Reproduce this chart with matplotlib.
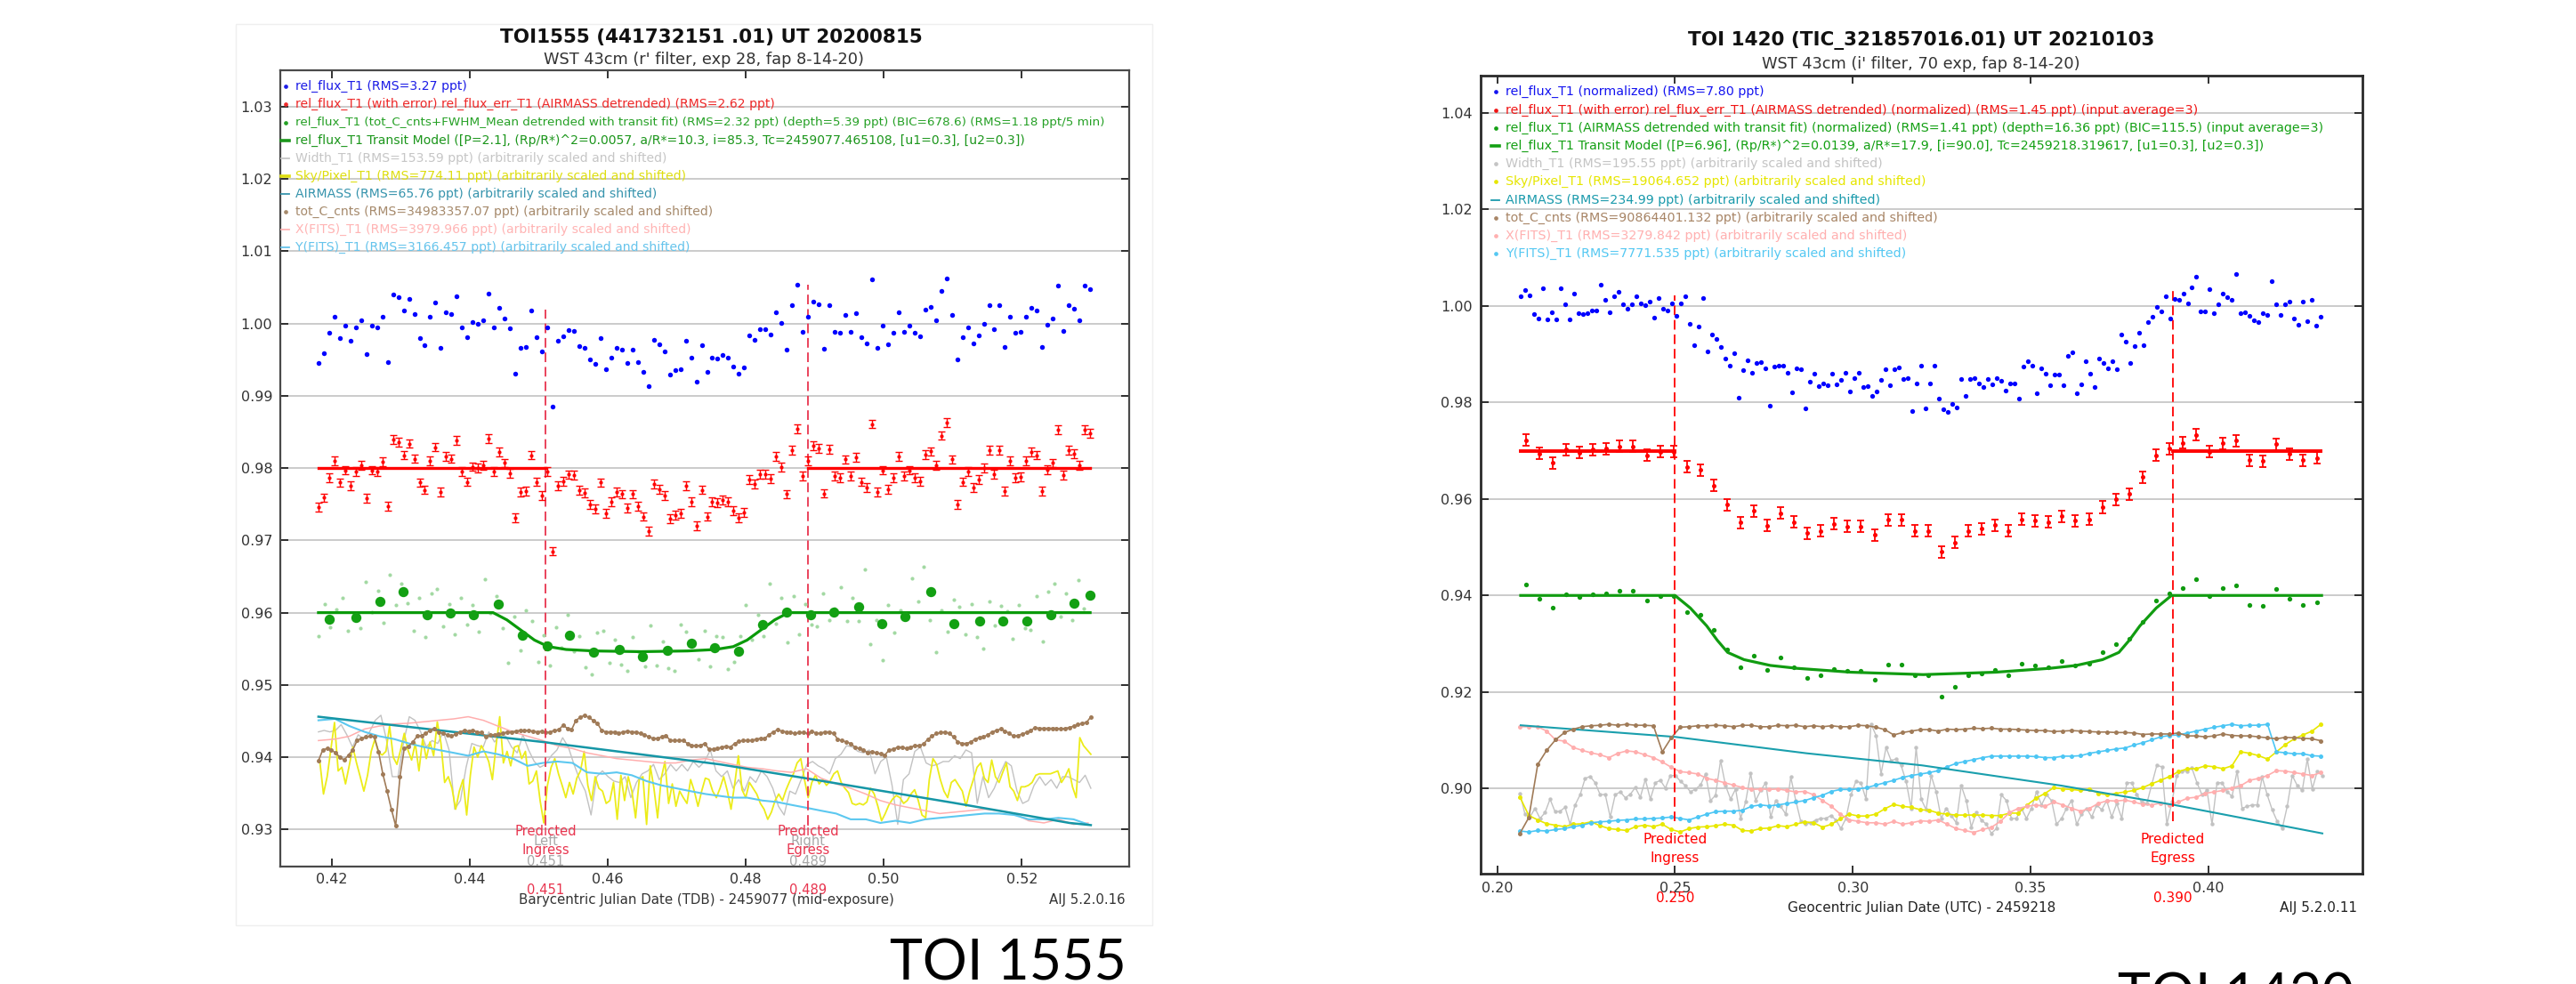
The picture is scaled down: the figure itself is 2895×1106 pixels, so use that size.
import numpy as np
import matplotlib
matplotlib.use("Agg")
import matplotlib.pyplot as plt
from matplotlib.lines import Line2D
from matplotlib.patches import Rectangle
from matplotlib.transforms import blended_transform_factory

# ---------------------------------------------------------------- DATA: TOI 1555 (left)
blue_L = [
    0.9946, 0.9959, 0.9987, 1.0010, 0.9980, 0.9997, 0.9976, 0.9995, 1.0004, 0.9958,
    0.9997, 0.9995, 1.0009, 0.9947, 1.0040, 1.0036, 1.0018, 1.0034, 1.0013, 0.9980,
    0.9970, 1.0010, 1.0029, 0.9967, 1.0016, 1.0013, 1.0038, 0.9995, 0.9981, 1.0002,
    1.0000, 1.0004, 1.0041, 0.9995, 1.0022, 1.0007, 0.9993, 0.9931, 0.9967, 0.9968,
    1.0018, 0.9981, 0.9962, 0.9995, 0.9885, 0.9976, 0.9982, 0.9991, 0.9990, 0.9969,
    0.9966, 0.9950, 0.9944, 0.9980, 0.9937, 0.9953, 0.9967, 0.9964, 0.9945, 0.9964,
    0.9947, 0.9933, 0.9913, 0.9978, 0.9971, 0.9962, 0.9930, 0.9935, 0.9937, 0.9976,
    0.9953, 0.9920, 0.9970, 0.9933, 0.9953, 0.9952, 0.9956, 0.9953, 0.9941, 0.9931,
    0.9939, 0.9984, 0.9978, 0.9992, 0.9992, 0.9985, 1.0016, 1.0001, 0.9964, 1.0025,
    1.0054, 0.9989, 1.0010, 1.0031, 1.0027, 0.9965, 1.0026, 0.9989, 0.9987, 1.0012,
    0.9989, 1.0015, 0.9981, 0.9973, 1.0061, 0.9967, 0.9997, 0.9971, 0.9987, 1.0016,
    0.9989, 0.9997, 0.9987, 0.9982, 1.0019, 1.0023, 1.0004, 1.0045, 1.0063, 1.0012,
    0.9950, 0.9981, 0.9995, 0.9973, 0.9984, 1.0000, 1.0025, 0.9992, 1.0025, 0.9968,
    1.0010, 0.9987, 0.9988, 1.0010, 1.0022, 1.0018, 0.9968, 0.9998, 1.0007, 1.0053,
    0.9990, 1.0025, 1.0020, 1.0004, 1.0053, 1.0048]
red_L = [
    0.9746, 0.9759, 0.9787, 0.9810, 0.9780, 0.9797, 0.9776, 0.9795, 0.9804, 0.9758,
    0.9797, 0.9795, 0.9809, 0.9747, 0.9840, 0.9836, 0.9818, 0.9834, 0.9813, 0.9780,
    0.9770, 0.9810, 0.9829, 0.9767, 0.9816, 0.9813, 0.9838, 0.9795, 0.9781, 0.9802,
    0.9800, 0.9804, 0.9841, 0.9795, 0.9822, 0.9807, 0.9793, 0.9731, 0.9767, 0.9768,
    0.9818, 0.9781, 0.9762, 0.9795, 0.9685, 0.9776, 0.9782, 0.9791, 0.9790, 0.9769,
    0.9766, 0.9750, 0.9744, 0.9780, 0.9737, 0.9753, 0.9767, 0.9764, 0.9745, 0.9764,
    0.9747, 0.9733, 0.9713, 0.9778, 0.9771, 0.9762, 0.9730, 0.9735, 0.9737, 0.9776,
    0.9753, 0.9720, 0.9770, 0.9733, 0.9753, 0.9752, 0.9756, 0.9753, 0.9741, 0.9731,
    0.9739, 0.9784, 0.9778, 0.9792, 0.9792, 0.9785, 0.9816, 0.9801, 0.9764, 0.9825,
    0.9854, 0.9789, 0.9810, 0.9831, 0.9827, 0.9765, 0.9826, 0.9789, 0.9787, 0.9812,
    0.9789, 0.9815, 0.9781, 0.9773, 0.9861, 0.9767, 0.9797, 0.9771, 0.9787, 0.9816,
    0.9789, 0.9797, 0.9787, 0.9782, 0.9819, 0.9823, 0.9804, 0.9845, 0.9863, 0.9812,
    0.9750, 0.9781, 0.9795, 0.9773, 0.9784, 0.9800, 0.9825, 0.9792, 0.9825, 0.9768,
    0.9810, 0.9787, 0.9788, 0.9810, 0.9822, 0.9818, 0.9768, 0.9798, 0.9807, 0.9853,
    0.9790, 0.9825, 0.9820, 0.9804, 0.9853, 0.9848]
red_err_L = 0.0006
red_base_L = 0.98
green_raw_L = [
    0.9568, 0.9612, 0.9580, 0.9604, 0.9621, 0.9575, 0.9598, 0.9578, 0.9643, 0.9601,
    0.9630, 0.9586, 0.9652, 0.9611, 0.9640, 0.9613, 0.9575, 0.9620, 0.9566, 0.9627,
    0.9633, 0.9581, 0.9612, 0.9570, 0.9620, 0.9584, 0.9610, 0.9574, 0.9646, 0.9600,
    0.9623, 0.9579, 0.9530, 0.9595, 0.9548, 0.9603, 0.9588, 0.9532, 0.9569, 0.9527,
    0.9580, 0.9552, 0.9597, 0.9547, 0.9568, 0.9524, 0.9515, 0.9573, 0.9575, 0.9531,
    0.9562, 0.9528, 0.9519, 0.9566, 0.9545, 0.9526, 0.9582, 0.9527, 0.9560, 0.9523,
    0.9520, 0.9583, 0.9574, 0.9555, 0.9535, 0.9575, 0.9526, 0.9568, 0.9566, 0.9522,
    0.9532, 0.9568, 0.9610, 0.9562, 0.9597, 0.9567, 0.9640, 0.9585, 0.9620, 0.9559,
    0.9623, 0.9570, 0.9612, 0.9583, 0.9581, 0.9627, 0.9590, 0.9606, 0.9635, 0.9589,
    0.9620, 0.9588, 0.9660, 0.9556, 0.9590, 0.9534, 0.9610, 0.9572, 0.9603, 0.9591,
    0.9648, 0.9615, 0.9663, 0.9590, 0.9545, 0.9603, 0.9574, 0.9618, 0.9608, 0.9570,
    0.9612, 0.9566, 0.9550, 0.9615, 0.9582, 0.9609, 0.9602, 0.9564, 0.9611, 0.9579,
    0.9576, 0.9623, 0.9560, 0.9629, 0.9640, 0.9595, 0.9627, 0.9590, 0.9645, 0.9606,
    0.9621]
t_bin_L = [0.4196, 0.4235, 0.4270, 0.4303, 0.4338, 0.4372, 0.4406, 0.4442, 0.4477,
           0.4512, 0.4545, 0.4579, 0.4617, 0.4651, 0.4686, 0.4721, 0.4755, 0.4790,
           0.4824, 0.4859, 0.4894, 0.4928, 0.4963, 0.4997, 0.5031, 0.5068, 0.5102,
           0.5139, 0.5173, 0.5207, 0.5242, 0.5276, 0.5299]
green_bin_L = [0.9591, 0.9593, 0.9615, 0.9629, 0.9597, 0.9599, 0.9597, 0.9612, 0.9569,
               0.9554, 0.9569, 0.9545, 0.9549, 0.9539, 0.9548, 0.9558, 0.9551, 0.9547,
               0.9584, 0.9601, 0.9597, 0.9601, 0.9608, 0.9585, 0.9594, 0.9629, 0.9585,
               0.9589, 0.9589, 0.9589, 0.9597, 0.9613, 0.9624]
t_model_L = [0.4181, 0.4434, 0.4454, 0.4474, 0.4494, 0.4514, 0.4540, 0.4580, 0.4648,
             0.4716, 0.4756, 0.4782, 0.4802, 0.4822, 0.4842, 0.4862, 0.5299]
model_L = [0.9600, 0.9600, 0.9590, 0.9576, 0.9562, 0.9553, 0.9549, 0.9547, 0.9546,
           0.9547, 0.9549, 0.9553, 0.9562, 0.9576, 0.9590, 0.9600, 0.9600]
brown_L = [
    0.9395, 0.9410, 0.9412, 0.9410, 0.9406, 0.9400, 0.9396, 0.9403, 0.9410, 0.9423,
    0.9426, 0.9428, 0.9429, 0.9428, 0.9408, 0.9377, 0.9353, 0.9328, 0.9305, 0.9373,
    0.9412, 0.9415, 0.9421, 0.9429, 0.9430, 0.9433, 0.9437, 0.9440, 0.9435, 0.9433,
    0.9431, 0.9429, 0.9432, 0.9435, 0.9437, 0.9436, 0.9437, 0.9435, 0.9434, 0.9428,
    0.9431, 0.9431, 0.9432, 0.9433, 0.9435, 0.9435, 0.9436, 0.9437, 0.9437, 0.9437,
    0.9436, 0.9435, 0.9436, 0.9434, 0.9435, 0.9437, 0.9438, 0.9444, 0.9440, 0.9438,
    0.9451, 0.9455, 0.9458, 0.9455, 0.9451, 0.9447, 0.9437, 0.9435, 0.9435, 0.9435,
    0.9433, 0.9435, 0.9436, 0.9435, 0.9435, 0.9433, 0.9431, 0.9428, 0.9426, 0.9426,
    0.9428, 0.9430, 0.9423, 0.9423, 0.9423, 0.9423, 0.9419, 0.9416, 0.9416, 0.9416,
    0.9419, 0.9411, 0.9411, 0.9412, 0.9414, 0.9415, 0.9414,
    0.9419, 0.9422, 0.9423, 0.9423, 0.9423, 0.9425, 0.9426, 0.9426, 0.9431, 0.9435,
    0.9438, 0.9436, 0.9435, 0.9434, 0.9433, 0.9434, 0.9434, 0.9433, 0.9436, 0.9433,
    0.9433, 0.9435, 0.9435, 0.9433, 0.9425, 0.9423, 0.9421, 0.9419, 0.9414, 0.9412,
    0.9410, 0.9406, 0.9408, 0.9406, 0.9405, 0.9403, 0.9410, 0.9411, 0.9414, 0.9414,
    0.9412, 0.9414, 0.9416, 0.9416, 0.9418, 0.9425, 0.9429, 0.9433, 0.9434, 0.9435,
    0.9433, 0.9428, 0.9421, 0.9419, 0.9419, 0.9421, 0.9425, 0.9427, 0.9428, 0.9431,
    0.9435, 0.9437, 0.9439, 0.9436, 0.9433, 0.9429, 0.9430, 0.9432, 0.9434, 0.9437,
    0.9441, 0.9440, 0.9440, 0.9440, 0.9440, 0.9440, 0.9439, 0.9440, 0.9441, 0.9443,
    0.9445, 0.9447, 0.9448, 0.9456]
sky_L = [
    0.9394, 0.9349, 0.9373, 0.9410, 0.9448, 0.9381, 0.9386, 0.9363, 0.9388, 0.9414,
    0.9392, 0.9373, 0.9353, 0.9375, 0.9408, 0.9425, 0.9406, 0.9403, 0.9408, 0.9443,
    0.9400, 0.9390, 0.9410, 0.9433, 0.9410, 0.9396, 0.9419, 0.9381, 0.9425, 0.9398,
    0.9421, 0.9402, 0.9449, 0.9419, 0.9365, 0.9373, 0.9357, 0.9328, 0.9353, 0.9369,
    0.9320, 0.9375, 0.9414, 0.9400, 0.9416, 0.9406, 0.9394, 0.9369, 0.9416, 0.9456,
    0.9392, 0.9408, 0.9388, 0.9414, 0.9416, 0.9398, 0.9408, 0.9363, 0.9367, 0.9381,
    0.9340, 0.9309, 0.9361, 0.9386, 0.9398, 0.9377, 0.9361, 0.9344, 0.9365, 0.9349,
    0.9371, 0.9381, 0.9408, 0.9361, 0.9340, 0.9373, 0.9357, 0.9353, 0.9336, 0.9340,
    0.9365, 0.9314, 0.9375, 0.9340, 0.9373, 0.9353, 0.9316, 0.9369, 0.9373, 0.9307,
    0.9388, 0.9357, 0.9316, 0.9371, 0.9394, 0.9336, 0.9363, 0.9332, 0.9353, 0.9344,
    0.9336, 0.9369, 0.9353, 0.9332, 0.9353, 0.9371, 0.9369, 0.9353, 0.9344,
    0.9357, 0.9373, 0.9353, 0.9328, 0.9363, 0.9402, 0.9355, 0.9344, 0.9365, 0.9357,
    0.9349, 0.9336, 0.9328, 0.9314, 0.9324, 0.9340, 0.9349, 0.9340, 0.9355, 0.9367,
    0.9377, 0.9392, 0.9398, 0.9369, 0.9344, 0.9365, 0.9375, 0.9363, 0.9369, 0.9361,
    0.9367, 0.9377, 0.9381, 0.9365, 0.9357, 0.9351, 0.9336, 0.9334, 0.9336, 0.9334,
    0.9338, 0.9357, 0.9349, 0.9332, 0.9312, 0.9322, 0.9334, 0.9342, 0.9347, 0.9344,
    0.9336, 0.9340, 0.9349, 0.9355, 0.9340, 0.9320, 0.9316, 0.9369, 0.9398, 0.9390,
    0.9369, 0.9353, 0.9344, 0.9365, 0.9369, 0.9361, 0.9353, 0.9332, 0.9353, 0.9369,
    0.9386, 0.9392, 0.9371, 0.9365, 0.9396, 0.9373, 0.9365, 0.9379, 0.9392, 0.9359,
    0.9353, 0.9340, 0.9359, 0.9359, 0.9361, 0.9365, 0.9375, 0.9377, 0.9377, 0.9377,
    0.9377, 0.9379, 0.9381, 0.9365, 0.9373, 0.9384, 0.9359, 0.9344, 0.9427, 0.9416,
    0.9410, 0.9404]
width_L = [
    0.9435, 0.9437, 0.9435, 0.9437, 0.9445, 0.9431, 0.9414, 0.9431, 0.9425, 0.9435,
    0.9451, 0.9458, 0.9423, 0.9373, 0.9373, 0.9421, 0.9456, 0.9451, 0.9435, 0.9414,
    0.9423, 0.9419, 0.9435, 0.9410, 0.9328, 0.9340, 0.9386, 0.9419, 0.9416, 0.9414,
    0.9435, 0.9421, 0.9431, 0.9429, 0.9414, 0.9406, 0.9431, 0.9410, 0.9394, 0.9386,
    0.9390, 0.9402, 0.9410, 0.9427, 0.9414, 0.9390, 0.9369, 0.9353, 0.9320, 0.9373,
    0.9381, 0.9373, 0.9367, 0.9365, 0.9373, 0.9344, 0.9365, 0.9377, 0.9381, 0.9390,
    0.9369, 0.9377, 0.9390, 0.9381, 0.9390, 0.9381, 0.9394, 0.9386, 0.9394, 0.9410,
    0.9381, 0.9373, 0.9381,
    0.9357, 0.9369, 0.9353, 0.9373, 0.9365, 0.9381, 0.9373, 0.9357, 0.9332, 0.9320,
    0.9353, 0.9349, 0.9369, 0.9390, 0.9394, 0.9388, 0.9384, 0.9377, 0.9398, 0.9404,
    0.9416, 0.9414, 0.9408, 0.9406, 0.9410, 0.9377, 0.9394, 0.9400, 0.9361, 0.9307,
    0.9369, 0.9377, 0.9408, 0.9414, 0.9392, 0.9388, 0.9390, 0.9394, 0.9394, 0.9402,
    0.9398, 0.9410, 0.9406, 0.9336, 0.9373, 0.9344, 0.9357, 0.9377, 0.9394, 0.9388,
    0.9353, 0.9336, 0.9340, 0.9361, 0.9373, 0.9361, 0.9369, 0.9357, 0.9373, 0.9373,
    0.9369, 0.9365, 0.9375, 0.9357]
t_fits_L = [0.4181, 0.4205, 0.4226, 0.4248, 0.4269, 0.4291, 0.4312, 0.4334, 0.4355,
            0.4377, 0.4398, 0.4420, 0.4441, 0.4463, 0.4484, 0.4506, 0.4527, 0.4549,
            0.4570, 0.4592, 0.4613, 0.4635, 0.4656, 0.4678, 0.4699, 0.4720, 0.4742,
            0.4781, 0.4802, 0.4824, 0.4845, 0.4866, 0.4888, 0.4909, 0.4931, 0.4952,
            0.4974, 0.4995, 0.5017, 0.5038, 0.5060, 0.5081, 0.5103, 0.5124, 0.5146,
            0.5167, 0.5189, 0.5210, 0.5232, 0.5253, 0.5275, 0.5296]
xfits_L = [0.9423, 0.9425, 0.9429, 0.9439, 0.9443, 0.9446, 0.9447, 0.9449, 0.9451,
           0.9453, 0.9456, 0.9451, 0.9443, 0.9435, 0.9429, 0.9423, 0.9416, 0.9412,
           0.9406, 0.9402, 0.9398, 0.9396, 0.9394, 0.9392, 0.9392, 0.9396, 0.9398,
           0.9390, 0.9386, 0.9384, 0.9381, 0.9379, 0.9384, 0.9371, 0.9363, 0.9357,
           0.9349, 0.9340, 0.9334, 0.9330, 0.9326, 0.9322, 0.9324, 0.9326, 0.9328,
           0.9326, 0.9322, 0.9312, 0.9309, 0.9314, 0.9307, 0.9309]
yfits_L = [0.9451, 0.9453, 0.9443, 0.9435, 0.9429, 0.9425, 0.9419, 0.9414, 0.9410,
           0.9406, 0.9402, 0.9408, 0.9404, 0.9398, 0.9388, 0.9392, 0.9394, 0.9392,
           0.9379, 0.9377, 0.9379, 0.9375, 0.9367, 0.9361, 0.9357, 0.9353, 0.9349,
           0.9344, 0.9344, 0.9340, 0.9338, 0.9334, 0.9330, 0.9326, 0.9322, 0.9314,
           0.9314, 0.9309, 0.9312, 0.9309, 0.9314, 0.9316, 0.9318, 0.9320, 0.9322,
           0.9322, 0.9320, 0.9314, 0.9314, 0.9316, 0.9314, 0.9307]
t_air_L = [0.4181, 0.4506, 0.4763, 0.4886, 0.5100, 0.5269, 0.5300]
air_L = [0.9456, 0.9421, 0.9390, 0.9371, 0.9337, 0.9309, 0.9306]
ingress_L, egress_L = 0.451, 0.489
xticks_L = [0.42, 0.44, 0.46, 0.48, 0.50, 0.52]
yticks_L = [0.93, 0.94, 0.95, 0.96, 0.97, 0.98, 0.99, 1.00, 1.01, 1.02, 1.03]

# ---------------------------------------------------------------- DATA: TOI 1420 (right)
blue_R = [
    1.0020, 1.0032, 1.0021, 0.9983, 0.9974, 1.0037, 0.9972, 0.9987, 0.9972, 1.0036,
    1.0003, 0.9972, 1.0025, 0.9985, 0.9983, 0.9985, 0.9991, 0.9990, 1.0043, 1.0012,
    0.9987, 1.0020, 1.0029, 1.0003, 0.9994, 1.0003, 1.0020, 1.0006, 1.0002, 1.0008,
    0.9975, 1.0017, 0.9994, 0.9990, 1.0005, 0.9980, 1.0006, 1.0020, 0.9962, 0.9919,
    0.9957, 1.0017, 0.9905, 0.9940, 0.9931, 0.9915, 0.9890, 0.9877, 0.9901, 0.9810,
    0.9866, 0.9888, 0.9862, 0.9882, 0.9883, 0.9871, 0.9794, 0.9875, 0.9877, 0.9877,
    0.9862, 0.9821, 0.9871, 0.9868, 0.9787, 0.9842, 0.9859, 0.9833, 0.9840, 0.9836,
    0.9859, 0.9837, 0.9846, 0.9862, 0.9822, 0.9850, 0.9862, 0.9831, 0.9833, 0.9813,
    0.9822, 0.9846, 0.9869, 0.9836, 0.9868, 0.9873, 0.9848, 0.9850, 0.9782, 0.9840,
    0.9877, 0.9787, 0.9840, 0.9877, 0.9808, 0.9785, 0.9780, 0.9796, 0.9790, 0.9848,
    0.9813, 0.9848, 0.9851, 0.9840, 0.9831, 0.9848, 0.9837, 0.9851, 0.9845, 0.9824,
    0.9840, 0.9840, 0.9808, 0.9875, 0.9885, 0.9877, 0.9819, 0.9871, 0.9859, 0.9836,
    0.9857, 0.9858, 0.9836, 0.9896, 0.9904, 0.9819, 0.9837, 0.9885, 0.9859, 0.9831,
    0.9891, 0.9882, 0.9871, 0.9885, 0.9868, 0.9940, 0.9926, 0.9882, 0.9917, 0.9945,
    0.9919, 0.9966, 0.9977, 0.9998, 0.9989, 1.0020, 0.9974, 1.0015, 1.0012, 1.0026,
    1.0006, 1.0038, 1.0061, 0.9989, 0.9988, 1.0034, 0.9985, 1.0003, 1.0025, 1.0018,
    1.0012, 1.0066, 0.9985, 0.9987, 0.9980, 0.9971, 0.9966, 0.9985, 0.9982, 1.0052,
    1.0003, 0.9982, 1.0003, 1.0009, 0.9974, 0.9960, 1.0009, 0.9968, 1.0012, 0.9959,
    0.9977]
red_R = [
    0.9722, 0.9694, 0.9675, 0.9702, 0.9696, 0.9702, 0.9704, 0.9709, 0.9709, 0.9690,
    0.9698, 0.9698, 0.9666, 0.9660, 0.9628, 0.9588, 0.9551, 0.9575, 0.9545, 0.9571,
    0.9552, 0.9529, 0.9534, 0.9548, 0.9543, 0.9543, 0.9525, 0.9557, 0.9557, 0.9534,
    0.9534, 0.9490, 0.9510, 0.9534, 0.9538, 0.9546, 0.9534, 0.9558, 0.9555, 0.9552,
    0.9564, 0.9555, 0.9558, 0.9583, 0.9599, 0.9610, 0.9645, 0.9690, 0.9704, 0.9716,
    0.9733, 0.9698, 0.9715, 0.9721, 0.9680, 0.9678, 0.9713, 0.9693, 0.9680, 0.9685]
red_err_R = 0.0012
red_base_R = 0.97
green_R = [
    0.9422, 0.9394, 0.9375, 0.9402, 0.9396, 0.9402, 0.9404, 0.9409, 0.9409, 0.9390,
    0.9398, 0.9398, 0.9366, 0.9360, 0.9328, 0.9288, 0.9251, 0.9275, 0.9245, 0.9271,
    0.9252, 0.9229, 0.9234, 0.9248, 0.9243, 0.9243, 0.9225, 0.9257, 0.9257, 0.9234,
    0.9234, 0.9190, 0.9210, 0.9234, 0.9238, 0.9246, 0.9234, 0.9258, 0.9255, 0.9252,
    0.9264, 0.9255, 0.9258, 0.9283, 0.9299, 0.9310, 0.9345, 0.9390, 0.9404, 0.9416,
    0.9433, 0.9398, 0.9415, 0.9421, 0.9380, 0.9378, 0.9413, 0.9393, 0.9380, 0.9385]
t_model_R = [0.2066, 0.2500, 0.2543, 0.2589, 0.2619, 0.2648, 0.2694, 0.2768, 0.2843,
             0.2994, 0.3198, 0.3402, 0.3553, 0.3628, 0.3702, 0.3748, 0.3777, 0.3807,
             0.3853, 0.3896, 0.4318]
model_R = [0.9400, 0.9400, 0.9374, 0.9337, 0.9307, 0.9282, 0.9267, 0.9255, 0.9249,
           0.9241, 0.9236, 0.9241, 0.9249, 0.9255, 0.9267, 0.9282, 0.9307, 0.9337,
           0.9374, 0.9400, 0.9400]
brown_R = [
    0.8907, 0.8940, 0.9050, 0.9079, 0.9101, 0.9116, 0.9123, 0.9128, 0.9130, 0.9131,
    0.9133, 0.9131, 0.9133, 0.9131, 0.9131, 0.9130, 0.9076, 0.9105, 0.9127, 0.9128,
    0.9130, 0.9130, 0.9131, 0.9130, 0.9128, 0.9131, 0.9131, 0.9128, 0.9128, 0.9131,
    0.9130, 0.9131, 0.9128, 0.9130, 0.9128, 0.9130, 0.9128, 0.9128, 0.9131, 0.9130,
    0.9127, 0.9122, 0.9111, 0.9116, 0.9119, 0.9122,
    0.9122, 0.9119, 0.9123, 0.9122, 0.9123, 0.9125, 0.9124, 0.9125, 0.9123, 0.9123,
    0.9122, 0.9121, 0.9120, 0.9120, 0.9118, 0.9119, 0.9120, 0.9119, 0.9118, 0.9117,
    0.9117, 0.9116, 0.9116, 0.9115, 0.9112, 0.9113, 0.9113, 0.9113, 0.9115, 0.9109,
    0.9109, 0.9107, 0.9109, 0.9113, 0.9110, 0.9109, 0.9109, 0.9107, 0.9105, 0.9103,
    0.9106, 0.9105, 0.9104, 0.9103, 0.9099]
xfits_R = [
    0.9128, 0.9128, 0.9128, 0.9119, 0.9101, 0.9098, 0.9085, 0.9079, 0.9074, 0.9070,
    0.9064, 0.9073, 0.9078, 0.9076, 0.9070, 0.9064, 0.9055, 0.9044, 0.9035, 0.9033,
    0.9030, 0.9021, 0.9017, 0.9012, 0.9007, 0.9002, 0.8998, 0.8999, 0.8998, 0.8999,
    0.8996, 0.8993, 0.8994, 0.8987, 0.8975, 0.8963, 0.8947, 0.8935, 0.8932, 0.8929,
    0.8929, 0.8926, 0.8932, 0.8926, 0.8929, 0.8933,
    0.8932, 0.8935, 0.8926, 0.8917, 0.8913, 0.8909, 0.8915, 0.8920, 0.8932, 0.8950,
    0.8959, 0.8963, 0.8966, 0.8963, 0.8972, 0.8966, 0.8959, 0.8953, 0.8959, 0.8969,
    0.8975, 0.8974, 0.8976, 0.8972, 0.8967, 0.8966, 0.8970, 0.8966, 0.8972, 0.8980,
    0.8982, 0.8990, 0.8993, 0.8996, 0.9001, 0.9006, 0.9017, 0.9021, 0.9027, 0.9037,
    0.9036, 0.9033, 0.9030, 0.9027, 0.9033]
yfits_R = [
    0.8912, 0.8910, 0.8913, 0.8912, 0.8915, 0.8917, 0.8921, 0.8924, 0.8929, 0.8931,
    0.8932, 0.8934, 0.8935, 0.8937, 0.8937, 0.8938, 0.8939, 0.8941, 0.8938, 0.8935,
    0.8941, 0.8947, 0.8952, 0.8953, 0.8953, 0.8955, 0.8963, 0.8966, 0.8964, 0.8966,
    0.8969, 0.8972, 0.8975, 0.8981, 0.8986, 0.8994, 0.8998, 0.8998, 0.8999, 0.9002,
    0.9007, 0.9012, 0.9017, 0.9023, 0.9027, 0.9030,
    0.9033, 0.9037, 0.9045, 0.9052, 0.9056, 0.9060, 0.9064, 0.9067, 0.9067, 0.9067,
    0.9067, 0.9067, 0.9066, 0.9064, 0.9064, 0.9067, 0.9067, 0.9068, 0.9073, 0.9076,
    0.9079, 0.9082, 0.9084, 0.9090, 0.9095, 0.9101, 0.9107, 0.9110, 0.9111, 0.9115,
    0.9119, 0.9123, 0.9127, 0.9130, 0.9133, 0.9130, 0.9131, 0.9131, 0.9133, 0.9076,
    0.9074, 0.9072, 0.9072, 0.9068, 0.9067]
sky_R = [
    0.8982, 0.8944, 0.8935, 0.8927, 0.8924, 0.8921, 0.8926, 0.8927, 0.8931, 0.8923,
    0.8917, 0.8915, 0.8913, 0.8921, 0.8924, 0.8921, 0.8926, 0.8915, 0.8910, 0.8917,
    0.8920, 0.8921, 0.8923, 0.8926, 0.8924, 0.8913, 0.8912, 0.8917, 0.8918, 0.8923,
    0.8921, 0.8926, 0.8931, 0.8929, 0.8920, 0.8926, 0.8937, 0.8947, 0.8943, 0.8943,
    0.8947, 0.8958, 0.8967, 0.8963, 0.8961, 0.8956,
    0.8955, 0.8949, 0.8947, 0.8945, 0.8945, 0.8945, 0.8945, 0.8944, 0.8944, 0.8949,
    0.8949, 0.8966, 0.8980, 0.8990, 0.9002, 0.8999, 0.8998, 0.8996, 0.8999, 0.8990,
    0.8987, 0.8990, 0.8993, 0.8996, 0.9002, 0.9010, 0.9017, 0.9025, 0.9035, 0.9041,
    0.9041, 0.9047, 0.9045, 0.9041, 0.9047, 0.9076, 0.9073, 0.9068, 0.9061, 0.9076,
    0.9091, 0.9103, 0.9111, 0.9119, 0.9133]
width_R = [
    0.8990, 0.8947, 0.8941, 0.8959, 0.8938, 0.8950, 0.8978, 0.8952, 0.8953, 0.8961,
    0.8926, 0.8966, 0.8987, 0.9021, 0.9025, 0.9012, 0.8987, 0.8988, 0.8941, 0.8987,
    0.8993, 0.8981, 0.8988, 0.9002, 0.8982, 0.9019, 0.8978, 0.9012, 0.9017, 0.9001,
    0.9027, 0.9027, 0.9015, 0.9006, 0.8993, 0.8999, 0.9007, 0.9030, 0.8975, 0.8986,
    0.9058, 0.9006, 0.8978, 0.8999, 0.8938, 0.8972, 0.9031, 0.8975, 0.8996, 0.9012,
    0.8941, 0.8975, 0.8963, 0.8947, 0.9024, 0.8975, 0.8932, 0.8926, 0.8929, 0.8935,
    0.8938, 0.8938, 0.8944, 0.8935, 0.8917, 0.8938, 0.8987, 0.9015, 0.9012, 0.8978,
    0.9134, 0.9110, 0.9030, 0.9085, 0.9058, 0.9061, 0.9048,
    0.9015, 0.8959, 0.9085, 0.8978, 0.8956, 0.9027, 0.8993, 0.8938, 0.8959, 0.8944,
    0.8929, 0.9006, 0.8975, 0.8920, 0.8950, 0.8935, 0.8926, 0.8907, 0.8917, 0.8987,
    0.8975, 0.8938, 0.8938, 0.8959, 0.8938, 0.8959, 0.8993, 0.8966, 0.8987, 0.8975,
    0.8926, 0.8938, 0.8959, 0.8975, 0.8926, 0.8947, 0.8959, 0.8941, 0.8966, 0.8956,
    0.8975, 0.8941, 0.8969, 0.8938, 0.9012, 0.9012, 0.8987, 0.8972, 0.8969, 0.9009,
    0.9048, 0.9045, 0.8926, 0.8972, 0.9027, 0.9036, 0.9036, 0.9042, 0.9012, 0.8987,
    0.8996, 0.8926, 0.9012, 0.9012, 0.8993, 0.8984, 0.9036, 0.8959, 0.8963, 0.8966,
    0.8966, 0.9024, 0.8987, 0.8956, 0.8932, 0.8917, 0.8963, 0.9027, 0.9006, 0.8996,
    0.9061, 0.8999, 0.9036, 0.9027]
t_air_R = [0.2066, 0.2500, 0.2870, 0.3194, 0.3586, 0.3903, 0.4320]
air_R = [0.9131, 0.9107, 0.9073, 0.9048, 0.9006, 0.8966, 0.8907]
ingress_R, egress_R = 0.250, 0.390
xticks_R = [0.20, 0.25, 0.30, 0.35, 0.40]
yticks_R = [0.90, 0.92, 0.94, 0.96, 0.98, 1.00, 1.02, 1.04]

legend_L = [
    ("rel_flux_T1 (RMS=3.27 ppt)", "#1c1ce6", "dot", 10.1),
    ("rel_flux_T1 (with error) rel_flux_err_T1 (AIRMASS detrended) (RMS=2.62 ppt)", "#ee2a2a", "dot", 10.1),
    ("rel_flux_T1 (tot_C_cnts+FWHM_Mean detrended with transit fit) (RMS=2.32 ppt) (depth=5.39 ppt) (BIC=678.6) (RMS=1.18 ppt/5 min)", "#25a025", "dot", 9.7),
    ("rel_flux_T1 Transit Model ([P=2.1], (Rp/R*)^2=0.0057, a/R*=10.3, i=85.3, Tc=2459077.465108, [u1=0.3], [u2=0.3])", "#1c961c", "bar", 10.1),
    ("Width_T1 (RMS=153.59 ppt) (arbitrarily scaled and shifted)", "#c6c6c6", "dash", 10.1),
    ("Sky/Pixel_T1 (RMS=774.11 ppt) (arbitrarily scaled and shifted)", "#dede10", "bar", 10.1),
    ("AIRMASS (RMS=65.76 ppt) (arbitrarily scaled and shifted)", "#3794ad", "dash", 10.1),
    ("tot_C_cnts (RMS=34983357.07 ppt) (arbitrarily scaled and shifted)", "#a68a6c", "dot", 10.1),
    ("X(FITS)_T1 (RMS=3979.966 ppt) (arbitrarily scaled and shifted)", "#ffb4b4", "dash", 10.1),
    ("Y(FITS)_T1 (RMS=3166.457 ppt) (arbitrarily scaled and shifted)", "#66c4ec", "dash", 10.1),
]
legend_R = [
    ("rel_flux_T1 (normalized) (RMS=7.80 ppt)", "#1414f0", "dot", 10.3),
    ("rel_flux_T1 (with error) rel_flux_err_T1 (AIRMASS detrended) (normalized) (RMS=1.45 ppt) (input average=3)", "#f01414", "dot", 10.3),
    ("rel_flux_T1 (AIRMASS detrended with transit fit) (normalized) (RMS=1.41 ppt) (depth=16.36 ppt) (BIC=115.5) (input average=3)", "#14a014", "dot", 10.3),
    ("rel_flux_T1 Transit Model ([P=6.96], (Rp/R*)^2=0.0139, a/R*=17.9, [i=90.0], Tc=2459218.319617, [u1=0.3], [u2=0.3])", "#14a014", "bar", 10.3),
    ("Width_T1 (RMS=195.55 ppt) (arbitrarily scaled and shifted)", "#c4c4c4", "dot", 10.3),
    ("Sky/Pixel_T1 (RMS=19064.652 ppt) (arbitrarily scaled and shifted)", "#e6e600", "dot", 10.3),
    ("AIRMASS (RMS=234.99 ppt) (arbitrarily scaled and shifted)", "#1a9aac", "dash", 10.3),
    ("tot_C_cnts (RMS=90864401.132 ppt) (arbitrarily scaled and shifted)", "#a88566", "dot", 10.3),
    ("X(FITS)_T1 (RMS=3279.842 ppt) (arbitrarily scaled and shifted)", "#ffb0b0", "dot", 10.3),
    ("Y(FITS)_T1 (RMS=7771.535 ppt) (arbitrarily scaled and shifted)", "#55c8f2", "dot", 10.3),
]

# ---------------------------------------------------------------- STYLE
BLUE, RED, GREEN = "#0000ff", "#ff0000", "#0a9a0a"
LGREEN = "#a3d9a3"
GRAY, YELLOW, TEAL = "#c2c2c2", "#ecec1a", "#1596a6"
BROWN, PINK, LBLUE = "#a07b58", "#ffaeae", "#5cc8f0"
DASHRED_L = "#e8344e"

W, H, DPI = 2895, 1106, 100
plt.rcParams["font.family"] = ["DejaVu Sans"]
fig = plt.figure(figsize=(W / DPI, H / DPI), dpi=DPI)
fig.patch.set_facecolor("white")


def fxp(px):
    return px / W


def fyp(py):
    return 1 - py / H


# faint frame of the pasted left image
fig.add_artist(Rectangle((fxp(265), fyp(1040)), fxp(1295) - fxp(265), fyp(27) - fyp(1040),
                         transform=fig.transFigure, fill=False, ec="#efefef", lw=1.0))

axL = fig.add_axes([fxp(315.2), fyp(973.7), fxp(1268.6) - fxp(315.2), fyp(79) - fyp(973.7)])
axR = fig.add_axes([fxp(1663.6), fyp(982.3), fxp(2654.7) - fxp(1663.6), fyp(85) - fyp(982.3)])


def style(ax, xlim, ylim, xticks, yticks, xfmt, frame_c, frame_lw, xpad):
    ax.set_xlim(*xlim)
    ax.set_ylim(*ylim)
    ax.set_xticks(xticks)
    ax.set_yticks(yticks)
    ax.set_xticklabels([xfmt % v for v in xticks])
    ax.set_yticklabels(["%.2f" % v for v in yticks])
    ax.tick_params(axis="both", direction="in", length=6.5, width=1.3, top=True, right=True,
                   labelsize=11.5, labelcolor="#333333", color="#222222")
    ax.tick_params(axis="x", pad=xpad)
    ax.tick_params(axis="y", pad=6.5)
    for s in ax.spines.values():
        s.set_color(frame_c)
        s.set_linewidth(frame_lw)
    ax.yaxis.grid(True, color="#cbcbcb", lw=1.4)
    ax.set_axisbelow(True)


style(axL, (0.4126, 0.5355), (0.92490, 1.03505), xticks_L, yticks_L, "%.2f", "#4a4a4a", 1.6, 5.5)
style(axR, (0.19525, 0.4432), (0.88230, 1.04770), xticks_R, yticks_R, "%.2f", "#2a2a2a", 2.0, 6.5)

# ---------------------------------------------------------------- LEFT PANEL
tL = np.linspace(0.4181, 0.5299, len(blue_L))
tgL = np.linspace(0.4181, 0.5299, len(green_raw_L))
tbL = np.linspace(0.4181, 0.5300, len(brown_L))
tsL = np.linspace(0.4183, 0.5300, len(sky_L))
twL = np.linspace(0.4181, 0.5300, len(width_L))

axL.plot(twL, width_L, color=GRAY, lw=1.0, zorder=2)
axL.plot(tsL, sky_L, color=YELLOW, lw=1.3, zorder=2.2)
axL.plot(t_fits_L, xfits_L, color=PINK, lw=1.1, zorder=2.4)
axL.plot(t_fits_L, yfits_L, color=LBLUE, lw=1.5, zorder=2.5)
axL.plot(t_air_L, air_L, color=TEAL, lw=1.8, zorder=2.6)
axL.plot(tbL, brown_L, "-o", color=BROWN, lw=1.2, ms=3.6, mec="none", zorder=2.8)

axL.plot(tL, blue_L, "o", color=BLUE, ms=3.9, mec="none", zorder=4)
axL.errorbar(tL, red_L, yerr=red_err_L, fmt="o", color=RED, ms=3.0, mec="none",
             elinewidth=1.0, capsize=2.6, capthick=1.0, zorder=4)
axL.plot([tL[0], ingress_L], [red_base_L, red_base_L], color=RED, lw=2.4, zorder=4.5)
axL.plot([egress_L, tL[-1]], [red_base_L, red_base_L], color=RED, lw=2.4, zorder=4.5)
axL.plot(tgL, green_raw_L, "o", color=LGREEN, ms=3.0, mec="none", zorder=3.5)
axL.plot(t_model_L, model_L, color=GREEN, lw=2.3, zorder=4.6)
axL.plot(t_bin_L, green_bin_L, "o", color="#13a013", ms=8.2, mec="none", zorder=4.7)

axL.plot([ingress_L, ingress_L], [0.9307, 1.0019], color=DASHRED_L, lw=1.3, dashes=(6, 3), zorder=3)
axL.plot([egress_L, egress_L], [0.9307, 1.0054], color=DASHRED_L, lw=1.3, dashes=(6, 3), zorder=3)

trL = blended_transform_factory(axL.transData, axL.transAxes)
for xv, side, val in [(ingress_L, "Left", "Ingress"), (egress_L, "Right", "Egress")]:
    axL.text(xv, 0.92967, "Predicted", color=DASHRED_L, fontsize=10.6, ha="center", va="center", clip_on=False, zorder=6)
    axL.text(xv, 0.92835, side, color="#a8a8a8", fontsize=10.6, ha="center", va="center", clip_on=False, zorder=5)
    axL.text(xv, 0.92712, val, color=DASHRED_L, fontsize=10.6, ha="center", va="center", clip_on=False, zorder=6)
    axL.text(xv, 0.92560, "%.3f" % xv, color="#a8a8a8", fontsize=10.6, ha="center", va="center", clip_on=False, zorder=5)
    axL.text(xv, -0.0305, "%.3f" % xv, color=DASHRED_L, fontsize=10.6, ha="center", va="center",
             transform=trL, clip_on=False)

axL.text(0.502, -0.0428, "Barycentric Julian Date (TDB) - 2459077 (mid-exposure)", transform=axL.transAxes,
         fontsize=10.8, color="#333333", ha="center", va="center")
axL.text(0.9962, -0.0428, "AIJ 5.2.0.16", transform=axL.transAxes, fontsize=10.8, color="#333333",
         ha="right", va="center")

fig.text(fxp(799), fyp(42), "TOI1555 (441732151 .01) UT 20200815", fontsize=15.5, fontweight="bold",
         ha="center", va="center", color="#111111")
fig.text(fxp(791), fyp(66.7), "WST 43cm (r' filter, exp 28, fap 8-14-20)", fontsize=12.8,
         ha="center", va="center", color="#333333")

# ---------------------------------------------------------------- RIGHT PANEL
tR = np.linspace(0.2067, 0.4316, len(blue_R))
tbinR = np.linspace(0.2081, 0.4304, len(red_R))
tbotR = np.linspace(0.2064, 0.4316, len(brown_R))
twR = np.linspace(0.2064, 0.4320, len(width_R))

axR.plot(twR, width_R, "-o", color=GRAY, lw=1.0, ms=3.2, mec="none", zorder=2)
axR.plot(tbotR, sky_R, "-o", color="#e8e800", lw=1.2, ms=3.6, mec="none", zorder=2.2)
axR.plot(tbotR, xfits_R, "-o", color=PINK, lw=1.2, ms=3.6, mec="none", zorder=2.3)
axR.plot(tbotR, yfits_R, "-o", color="#4cc6f4", lw=1.2, ms=3.6, mec="none", zorder=2.4)
axR.plot(t_air_R, air_R, color="#1a9fad", lw=1.5, zorder=2.5)
axR.plot(tbotR, brown_R, "-o", color=BROWN, lw=1.2, ms=3.6, mec="none", zorder=2.6)

axR.plot(tR, blue_R, "o", color=BLUE, ms=3.8, mec="none", zorder=4)
axR.errorbar(tbinR, red_R, yerr=red_err_R, fmt="o", color=RED, ms=3.6, mec="none",
             elinewidth=1.3, capsize=3.2, capthick=1.3, zorder=4)
axR.plot([tR[0], ingress_R], [red_base_R, red_base_R], color=RED, lw=2.8, zorder=4.5)
axR.plot([egress_R, tR[-1]], [red_base_R, red_base_R], color=RED, lw=2.8, zorder=4.5)
axR.plot(tbinR, green_R, "o", color="#0f9a0f", ms=3.8, mec="none", zorder=4)
axR.plot(t_model_R, model_R, color="#119c11", lw=2.3, zorder=4.6)

axR.plot([ingress_R, ingress_R], [0.8932, 1.0021], color=RED, lw=1.3, dashes=(6, 3), zorder=3)
axR.plot([egress_R, egress_R], [0.8932, 1.0039], color=RED, lw=1.3, dashes=(6, 3), zorder=3)

trR = blended_transform_factory(axR.transData, axR.transAxes)
for xv, val in [(ingress_R, "Ingress"), (egress_R, "Egress")]:
    axR.text(xv, 0.88937, "Predicted", color=RED, fontsize=11, ha="center", va="center", clip_on=False)
    axR.text(xv, 0.88564, val, color=RED, fontsize=11, ha="center", va="center", clip_on=False)
    axR.text(xv, -0.0301, "%.3f" % xv, color=RED, fontsize=11, ha="center", va="center",
             transform=trR, clip_on=False)

axR.text(0.5, -0.0431, "Geocentric Julian Date (UTC) - 2459218", transform=axR.transAxes,
         fontsize=11, color="#222222", ha="center", va="center")
axR.text(0.9943, -0.0431, "AIJ 5.2.0.11", transform=axR.transAxes, fontsize=11, color="#222222",
         ha="right", va="center")

fig.text(fxp(2159), fyp(45), "TOI 1420 (TIC_321857016.01) UT 20210103", fontsize=15.5, fontweight="bold",
         ha="center", va="center", color="#111111")
fig.text(fxp(2158.5), fyp(71.7), "WST 43cm (i' filter, 70 exp, fap 8-14-20)", fontsize=12.8,
         ha="center", va="center", color="#333333")

# ---------------------------------------------------------------- LEGEND TEXT BLOCKS


def legend_block(entries, x_text, x_mark, y0, dy):
    for i, (txt, col, kind, size) in enumerate(entries):
        yy = fyp(y0 + dy * i)
        fig.text(fxp(x_text), yy, txt, color=col, fontsize=size, ha="left", va="center", zorder=10)
        if kind == "dot":
            fig.add_artist(Line2D([fxp(x_mark)], [yy], marker="o", ms=3.4, color=col, mec="none",
                                  transform=fig.transFigure))
        elif kind == "bar":
            fig.add_artist(Line2D([fxp(x_mark - 5), fxp(x_mark + 4)], [yy, yy], color=col, lw=2.6,
                                  transform=fig.transFigure))
        else:
            fig.add_artist(Line2D([fxp(x_mark - 5), fxp(x_mark + 4)], [yy, yy], color=col, lw=1.3,
                                  transform=fig.transFigure))


legend_block(legend_L, 331.6, 321.4, 97.3, 20.1)
legend_block(legend_R, 1691.7, 1681.3, 103.3, 20.2)

# ---------------------------------------------------------------- SLIDE CAPTIONS
fig.text(fxp(1000), fyp(1101), "TOI 1555", fontsize=45, family=["Lato", "DejaVu Sans"],
         ha="left", va="baseline", color="black")
fig.text(fxp(2380), fyp(1139), "TOI 1420", fontsize=45, family=["Lato", "DejaVu Sans"],
         ha="left", va="baseline", color="black")

fig.savefig("out.png", dpi=DPI, facecolor="white")
